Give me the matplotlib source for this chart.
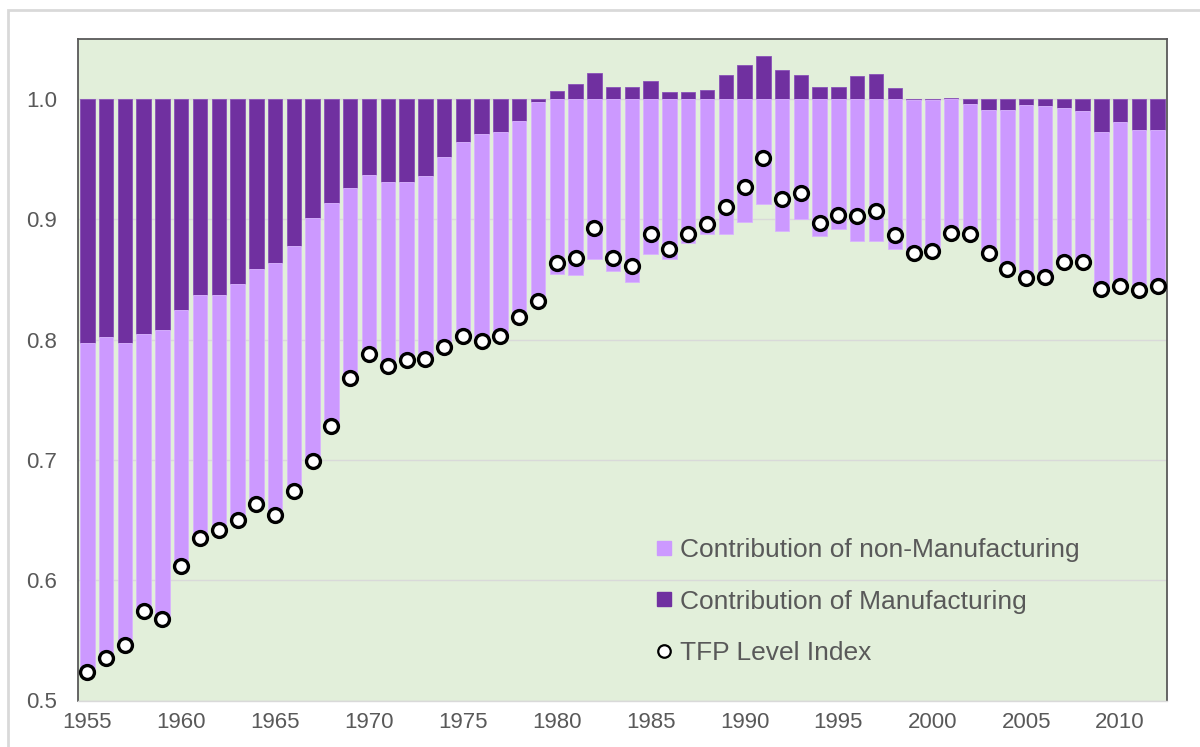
import matplotlib
matplotlib.use("Agg")
import matplotlib.pyplot as plt
import numpy as np
from matplotlib.lines import Line2D
from matplotlib.patches import Rectangle

years = list(range(1955, 2013))

# contribution of manufacturing (relative to 1.0)
mfg = [-0.203, -0.198, -0.203, -0.195, -0.192, -0.175, -0.163, -0.163, -0.154, -0.141,
       -0.136, -0.122, -0.099, -0.086, -0.074, -0.063, -0.069, -0.069, -0.064, -0.048,
       -0.036, -0.029, -0.027, -0.018, -0.002, 0.007, 0.013, 0.022, 0.010, 0.010,
       0.015, 0.006, 0.006, 0.008, 0.020, 0.028, 0.036, 0.024, 0.020, 0.010,
       0.010, 0.019, 0.021, 0.009, -0.001, -0.001, 0.001, -0.004, -0.009, -0.009,
       -0.005, -0.006, -0.007, -0.010, -0.027, -0.019, -0.026, -0.026]

# contribution of non-manufacturing (relative to 1.0)
nonmfg = [-0.273, -0.267, -0.251, -0.231, -0.240, -0.213, -0.202, -0.195, -0.196, -0.196,
          -0.210, -0.204, -0.202, -0.186, -0.158, -0.149, -0.153, -0.148, -0.152, -0.158,
          -0.161, -0.172, -0.170, -0.163, -0.166, -0.145, -0.146, -0.133, -0.143, -0.152,
          -0.129, -0.133, -0.120, -0.112, -0.112, -0.102, -0.087, -0.110, -0.100, -0.114,
          -0.108, -0.118, -0.118, -0.125, -0.127, -0.125, -0.112, -0.108, -0.119, -0.132,
          -0.144, -0.142, -0.128, -0.125, -0.131, -0.136, -0.133, -0.129]

# TFP level index
tfp = [0.524, 0.535, 0.546, 0.574, 0.568, 0.612, 0.635, 0.642, 0.650, 0.663,
       0.654, 0.674, 0.699, 0.728, 0.768, 0.788, 0.778, 0.783, 0.784, 0.794,
       0.803, 0.799, 0.803, 0.819, 0.832, 0.864, 0.868, 0.893, 0.868, 0.861,
       0.888, 0.875, 0.888, 0.896, 0.910, 0.927, 0.951, 0.917, 0.922, 0.897,
       0.904, 0.903, 0.907, 0.887, 0.872, 0.874, 0.889, 0.888, 0.872, 0.859,
       0.851, 0.852, 0.865, 0.865, 0.842, 0.845, 0.841, 0.845]

labels = ["Contribution of non-Manufacturing", "Contribution of Manufacturing", "TFP Level Index"]

base = 1.0
plt.rcParams['font.family'] = ['Liberation Sans', 'DejaVu Sans']

LIGHT = '#CC99FF'
DARK = '#7030A0'
BG = '#E2EFDA'
TXT = '#595959'

fig = plt.figure(figsize=(12, 7.47), dpi=100)
ax = fig.add_axes([78/1200, 1 - 700.5/747, (1167-78)/1200, (700.5-39)/747])
ax.set_facecolor(BG)

x = np.arange(len(years))
mfg_a = np.array(mfg)
non_a = np.array(nonmfg)
non_bottom = np.where(mfg_a < 0, base + mfg_a, base)

w = 0.77
ax.bar(x, mfg_a, bottom=base, width=w, color=DARK, edgecolor='#8a52b8', linewidth=0.6, zorder=2)
ax.bar(x, non_a, bottom=non_bottom, width=w, color=LIGHT, edgecolor='#d9b3ff', linewidth=0.6, zorder=2)
ax.plot(x, tfp, linestyle='none', marker='o', markersize=10, markerfacecolor='white',
        markeredgecolor='black', markeredgewidth=2.4, zorder=3)

ax.set_xlim(-0.5, len(years) - 0.5)
ax.set_ylim(0.5, 1.05)
yt = [0.5, 0.6, 0.7, 0.8, 0.9, 1.0]
ax.set_yticks(yt)
ax.set_yticklabels([f"{v:.1f}" for v in yt])
xt = [i for i, y in enumerate(years) if y % 5 == 0]
ax.set_xticks(xt)
ax.set_xticklabels([str(years[i]) for i in xt])
ax.tick_params(axis='both', length=0, labelsize=16, colors=TXT)
ax.tick_params(axis='y', pad=15)
ax.tick_params(axis='x', pad=8)
ax.yaxis.grid(True, color='#D9D9D9', linewidth=1, zorder=1)
ax.set_axisbelow(True)

for s in ['top', 'left', 'right']:
    ax.spines[s].set_color('#595959')
    ax.spines[s].set_linewidth(1.3)
ax.spines['bottom'].set_color('#D9D9D9')
ax.spines['bottom'].set_linewidth(1)

handles = [
    Line2D([], [], linestyle='none', marker='s', markersize=10.5, markerfacecolor=LIGHT, markeredgecolor=LIGHT),
    Line2D([], [], linestyle='none', marker='s', markersize=10.5, markerfacecolor=DARK, markeredgecolor=DARK),
    Line2D([], [], linestyle='none', marker='o', markersize=9, markerfacecolor='white',
           markeredgecolor='black', markeredgewidth=1.6),
]
leg = ax.legend(handles, labels, loc='upper left', bbox_to_anchor=(656/1200, 1 - 538/747),
                bbox_transform=fig.transFigure, frameon=False, fontsize=19, labelcolor=TXT,
                handlelength=0.6, handletextpad=0.3, labelspacing=1.05, borderpad=0,
                borderaxespad=0)

# outer chart frame
fig.patches.append(Rectangle((8/1200, -0.1), 1.2, 1 - 10/747 + 0.1, transform=fig.transFigure,
                             fill=False, edgecolor='#D9D9D9', linewidth=2))

fig.savefig('out.png', dpi=100, facecolor='white')
